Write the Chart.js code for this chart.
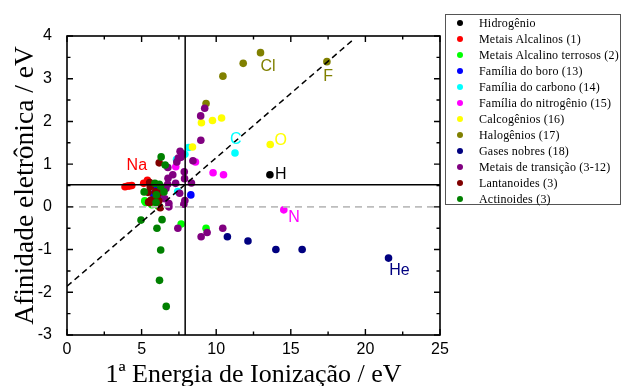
<!DOCTYPE html>
<html><head><meta charset="utf-8">
<script src="https://cdn.jsdelivr.net/npm/chart.js@4.4.0/dist/chart.umd.min.js"></script>
<style>
html,body{margin:0;padding:0;background:#fff;}
#wrap{position:relative;width:623px;height:386px;overflow:hidden;}
#legend{position:absolute;left:445px;top:14px;width:176px;height:191px;border:1px solid #555;box-sizing:border-box;background:#fff;font-family:"Liberation Serif","Times New Roman",serif;font-size:12px;color:#000;}
.row{position:absolute;left:0;height:16px;line-height:16px;white-space:nowrap;}
.dot{position:absolute;left:11px;top:5px;width:6px;height:6px;border-radius:50%;}
.txt{position:absolute;left:33px;top:0;letter-spacing:0.2px;}
</style></head>
<body><div id="wrap"><canvas id="c" width="623" height="386"></canvas><div id="legend"></div></div>
<script>
// ---- data (x = 1ª energia de ionização / eV, y = afinidade eletrônica / eV) ----
const hidrogenio = [[13.60, 0.75]];
const alcalinos = [[5.39,0.62],[5.14,0.55],[4.34,0.50],[4.18,0.49],[3.89,0.47],[4.07,0.49]];
const alcalinoTerrosos = [[9.32,-0.50],[7.65,-0.40],[6.11,0.02],[5.69,0.05],[5.21,0.14],[5.28,0.10]];
const boro = [[8.30,0.28],[5.99,0.43],[6.00,0.30],[5.79,0.30],[6.11,0.20]];
const carbono = [[11.26,1.26],[8.15,1.39],[7.90,1.23],[7.34,1.11],[7.42,0.36]];
const nitrogenio = [[14.53,-0.07],[10.49,0.75],[9.79,0.80],[8.61,1.05],[7.29,0.94]];
const calcogenios = [[13.62,1.46],[10.36,2.08],[9.75,2.02],[9.01,1.97],[8.41,1.40]];
const halogenios = [[17.42,3.40],[12.97,3.61],[11.81,3.36],[10.45,3.06],[9.32,2.42]];
const gasesNobres = [[21.55,-1.20],[15.76,-1.00],[14.00,-1.00],[12.13,-0.80],[10.75,-0.70]];
const transicao = [[6.56,0.19],[6.83,0.08],[6.75,0.53],[6.77,0.67],[7.43,-0.50],[7.90,0.15],[7.88,0.66],[7.64,1.16],[7.73,1.24],[9.39,-0.60],
  [6.22,0.31],[6.63,0.43],[6.76,0.92],[7.09,0.75],[7.28,0.55],[7.36,1.05],[7.46,1.14],[8.34,0.56],[7.58,1.30],[8.99,-0.70],
  [6.83,0.00],[7.55,0.32],[7.86,0.82],[7.83,0.06],[8.44,1.08],[8.97,1.56],[8.96,2.13],[9.23,2.31],[10.44,-0.50]];
const lantanoides = [[5.58,0.47],[5.54,0.57],[5.47,0.11],[5.53,0.10],[5.58,0.13],[5.64,0.16],[5.67,0.12],[6.15,0.14],[5.86,0.13],[5.94,0.35],[6.02,0.34],[6.11,0.31],[6.18,1.03],[6.25,-0.02],[5.43,0.34]];
const actinoides = [[5.17,0.35],[6.31,1.17],[5.89,0.55],[6.19,0.53],[6.27,0.48],[6.03,-0.50],[5.97,0.10],[5.99,0.28],[6.20,-1.72],[6.28,-1.01],[6.37,-0.30],[6.50,0.35],[6.58,0.98],[6.65,-2.33],[4.96,-0.31]];

const seriesNames = ['Hidrogênio','Metais Alcalinos (1)','Metais Alcalino terrosos (2)','Família do boro (13)','Família do carbono (14)','Família do nitrogênio (15)','Calcogênios (16)','Halogênios (17)','Gases nobres (18)','Metais de transição (3-12)','Lantanoides (3)','Actinoides (3)'];
const seriesData = [hidrogenio, alcalinos, alcalinoTerrosos, boro, carbono, nitrogenio, calcogenios, halogenios, gasesNobres, transicao, lantanoides, actinoides];

// reference lines
const mediaIE = 7.92;          // vertical solid line
const mediaAE = 0.52;          // horizontal solid line
const zeroAE = 0;              // grey dashed line
const ajusteX = [0, 19.1];     // dashed fit line
const ajusteY = [-1.86, 3.89];

// element labels
const rotulos = ['Na','Cl','F','C','O','H','N','He'];
const rotuloX = [4.68,13.47,17.50,11.32,14.32,14.32,15.21,22.28];
const rotuloY = [0.96,3.28,3.04,1.58,1.54,0.75,-0.26,-1.50];
const rotuloSerie = [1,7,7,4,6,0,5,8];

// tick labels / ranges
const xRange = [0, 25], xStep = 5;
const yRange = [-3, 4], yStep = 1;

// ---- styles ----
const seriesColors = ['#000000','#ff0000','#00ff00','#0000ff','#00ffff','#ff00ff','#ffff00','#808000','#000080','#800080','#800000','#008000'];

const datasets = seriesData.map((arr, i) => ({
  label: seriesNames[i],
  data: arr.map(p => ({x: p[0], y: p[1]})),
  backgroundColor: seriesColors[i],
  borderColor: seriesColors[i],
  borderWidth: 0,
  pointRadius: 3.8,
  order: -i
}));
datasets.push({label:'_zero', data:[{x:xRange[0],y:zeroAE},{x:xRange[1],y:zeroAE}], showLine:true, borderColor:'#bdbdbd', borderWidth:1.6, borderDash:[7,5], pointRadius:0, order:-50});
datasets.push({label:'_ajuste', data:ajusteX.map((x,i)=>({x:x,y:ajusteY[i]})), showLine:true, borderColor:'#000', borderWidth:1.5, borderDash:[6,4], pointRadius:0, order:-100});
datasets.push({label:'_mediaAE', data:[{x:xRange[0],y:mediaAE},{x:xRange[1],y:mediaAE}], showLine:true, borderColor:'#000', borderWidth:1.5, pointRadius:0, order:-100});
datasets.push({label:'_mediaIE', data:[{x:mediaIE,y:yRange[0]},{x:mediaIE,y:yRange[1]}], showLine:true, borderColor:'#000', borderWidth:1.5, pointRadius:0, order:-100});

const framePlugin = {
  id: 'frame',
  afterDatasetsDraw(chart) {
    const ctx = chart.ctx, a = chart.chartArea;
    const xs = chart.scales.x, ys = chart.scales.y;
    ctx.save();
    // labels
    ctx.font = '16px "Liberation Sans", Arial, sans-serif';
    ctx.textAlign = 'center'; ctx.textBaseline = 'middle';
    rotulos.forEach((t, i) => {
      ctx.fillStyle = seriesColors[rotuloSerie[i]];
      ctx.fillText(t, xs.getPixelForValue(rotuloX[i]), ys.getPixelForValue(rotuloY[i]));
    });
    // frame
    ctx.strokeStyle = '#000'; ctx.lineWidth = 1.6;
    ctx.strokeRect(a.left, a.top, a.right - a.left, a.bottom - a.top);
    // ticks
    ctx.lineWidth = 1.4;
    const major = 6, minor = 3.5;
    const xt = xs.ticks.map(t => t.value), yt = ys.ticks.map(t => t.value);
    const xTick = (v, len) => { const p = xs.getPixelForValue(v);
      ctx.beginPath(); ctx.moveTo(p, a.bottom); ctx.lineTo(p, a.bottom - len);
      ctx.moveTo(p, a.top); ctx.lineTo(p, a.top + len); ctx.stroke(); };
    const yTick = (v, len) => { const p = ys.getPixelForValue(v);
      ctx.beginPath(); ctx.moveTo(a.left, p); ctx.lineTo(a.left + len, p);
      ctx.moveTo(a.right, p); ctx.lineTo(a.right - len, p); ctx.stroke(); };
    xt.forEach((v, i) => { xTick(v, major); if (i < xt.length - 1) xTick((v + xt[i+1]) / 2, minor); });
    yt.forEach((v, i) => { yTick(v, major); if (i < yt.length - 1) yTick((v + yt[i+1]) / 2, minor); });
    ctx.restore();
  }
};

const tickFont = {family: '"Liberation Sans", Arial, sans-serif', size: 16};

new Chart(document.getElementById('c'), {
  type: 'scatter',
  data: {datasets},
  options: {
    responsive: false, animation: false, devicePixelRatio: 1,
    layout: {padding: {left: 0, right: 183, top: 36, bottom: 0}},
    plugins: {legend: {display: false}, tooltip: {enabled: false}},
    scales: {
      x: {type: 'linear', min: xRange[0], max: xRange[1],
        ticks: {stepSize: xStep, padding: 5, color: '#000', font: tickFont, maxRotation: 0},
        grid: {display: false, drawTicks: false}, border: {display: false},
        title: {display: true, text: '1ª Energia de Ionização / eV', color: '#000', font: {family: '"Liberation Serif", "Times New Roman", serif', size: 26, lineHeight: 0.8}, padding: {top: 0, bottom: 0}},
        afterFit(s) { s.height = 51; }},
      y: {type: 'linear', min: yRange[0], max: yRange[1],
        ticks: {stepSize: yStep, padding: 15, color: '#000', font: tickFont},
        grid: {display: false, drawTicks: false}, border: {display: false},
        title: {display: true, text: 'Afinidade eletrônica / eV', color: '#000', font: {family: '"Liberation Serif", "Times New Roman", serif', size: 27.5, lineHeight: 1}, padding: {top: 12, bottom: 0}},
        afterFit(s) { s.width = 67; }}
    }
  },
  plugins: [framePlugin]
});

// legend (HTML, built from the series)
const leg = document.getElementById('legend');
seriesNames.forEach((n, i) => {
  const r = document.createElement('div'); r.className = 'row'; r.style.top = (i * 16) + 'px';
  const d = document.createElement('span'); d.className = 'dot'; d.style.background = seriesColors[i];
  const t = document.createElement('span'); t.className = 'txt'; t.textContent = n;
  r.appendChild(d); r.appendChild(t); leg.appendChild(r);
});
</script>
</body></html>
